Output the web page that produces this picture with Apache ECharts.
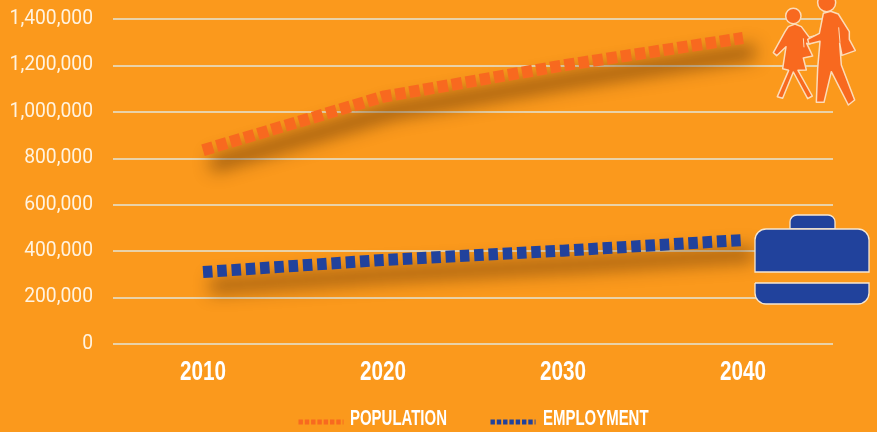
<!DOCTYPE html>
<html>
<head>
<meta charset="utf-8">
<style>
html,body{margin:0;padding:0;background:#fb991c}
#chart{width:877px;height:432px}
</style>
<script src="https://cdn.jsdelivr.net/npm/echarts@6/dist/echarts.min.js"></script>
</head>
<body>
<div id="chart"></div>
<script>
// Projected regional totals by decade
const years = ['2010', '2020', '2030', '2040'];
const population = [835000, 1065000, 1200000, 1318000];
const employment = [310000, 362000, 402000, 448000];
const seriesNames = ['POPULATION', 'EMPLOYMENT'];
const axisTicks = { min: 0, max: 1400000, step: 200000 };

const ORANGE = '#f8691f';
const BLUE = '#21429c';
const OUTLINE = '#fcdcb8';
const HEADING_FONT = '"Liberation Sans"';
const ICON_Z = 20;

function dottedLine(name, values, color, dash) {
  return {
    name, type: 'line', data: values, symbol: 'none', smooth: false, z: 5,
    lineStyle: {
      color, width: 12, type: dash, cap: 'butt',
      shadowColor: 'rgba(70,35,5,0.9)', shadowBlur: 18, shadowOffsetX: 10, shadowOffsetY: 14
    },
    itemStyle: { color }
  };
}

// Condensed captions: regular bold type squeezed horizontally
function condensedText(text, x, y, size, scaleX, align) {
  return {
    type: 'text', x, y, scaleX, scaleY: 1, z: ICON_Z,
    style: {
      text, fill: '#fff', font: 'bold ' + size + 'px ' + HEADING_FONT,
      textAlign: align, textVerticalAlign: 'middle'
    }
  };
}

const personStyle = { fill: ORANGE, stroke: OUTLINE, lineWidth: 4.5, lineJoin: 'round' };
const slitStyle = { stroke: OUTLINE, lineWidth: 3 };
const caseStyle = { fill: BLUE, stroke: '#f6e6cf', lineWidth: 1.3 };

const chart = echarts.init(document.getElementById('chart'), null, { renderer: 'canvas' });
chart.setOption({
  animation: false,
  backgroundColor: '#fb991c',
  grid: { left: 113, right: 44, top: 19, bottom: 88 },
  xAxis: {
    type: 'category', data: years, boundaryGap: true,
    axisLine: { show: false }, axisTick: { show: false },
    axisLabel: { show: false }
  },
  yAxis: {
    type: 'value', min: axisTicks.min, max: axisTicks.max, interval: axisTicks.step,
    axisLine: { show: false }, axisTick: { show: false },
    axisLabel: {
      color: '#fff3e0', fontFamily: 'Roboto', fontSize: 19.3, margin: 20, padding: [5, 0, 0, 0],
      formatter: v => v.toLocaleString('en-US')
    },
    splitLine: { lineStyle: { color: '#e9d2a8', width: 2 } }
  },
  legend: {
    left: 296, top: 418, padding: 0, itemWidth: 45, itemHeight: 8, itemGap: 142,
    formatter: () => '',
    itemStyle: { opacity: 0 },
    lineStyle: { width: 5, type: [4.4, 1.9], shadowBlur: 0, shadowOffsetX: 0, shadowOffsetY: 0, shadowColor: 'transparent' },
    data: seriesNames
  },
  series: [
    dottedLine(seriesNames[0], population, ORANGE, [10.5, 3.8]),
    dottedLine(seriesNames[1], employment, BLUE, [9.5, 4.8])
  ],
  graphic: [
    condensedText(seriesNames[0], 350, 419, 22, 0.68, 'left'),
    condensedText(seriesNames[1], 543, 419, 22, 0.68, 'left'),
    {
      // Two pedestrians beside the population line
      type: 'group', x: 740, y: 0, scaleX: 1 / 3, scaleY: 1 / 3,
      children: [
        { type: 'circle', z: ICON_Z, shape: { cx: 160, cy: 48, r: 23 }, style: personStyle },
        { type: 'polygon', z: ICON_Z, shape: { points: [[145,80],[165,72],[184,80],[208,112],[245,102],[249,116],[207,132],[200,130],[218,168],[190,174],[199,210],[174,211],[217,288],[203,296],[160,216],[128,295],[112,290],[146,211],[128,206],[138,140],[110,167],[100,158],[135,95]] }, style: personStyle },
        { type: 'line', z: ICON_Z, shape: { x1: 190, y1: 115, x2: 192, y2: 142 }, style: slitStyle },
        { type: 'circle', z: ICON_Z, shape: { cx: 260, cy: 8, r: 27 }, style: personStyle },
        { type: 'polygon', z: ICON_Z, shape: { points: [[250,40],[272,34],[295,42],[328,95],[328,118],[346,152],[306,166],[299,130],[304,195],[344,300],[325,315],[274,215],[252,307],[229,307],[233,205],[240,124],[207,132],[203,118],[238,100]] }, style: personStyle },
        { type: 'line', z: ICON_Z, shape: { x1: 296, y1: 82, x2: 300, y2: 128 }, style: slitStyle }
      ]
    },
    {
      // Briefcase beside the employment line
      type: 'group', x: 0, y: 0,
      children: [
        { type: 'rect', z: ICON_Z, shape: { x: 790, y: 215, width: 45, height: 14, r: [7, 7, 0, 0] }, style: caseStyle },
        { type: 'rect', z: ICON_Z, shape: { x: 755, y: 229, width: 114, height: 43, r: [11, 11, 0, 0] }, style: caseStyle },
        { type: 'rect', z: ICON_Z, shape: { x: 755, y: 283, width: 114, height: 21, r: [0, 0, 11, 11] }, style: caseStyle }
      ]
    }
  ]
});

// Year captions sit under their category positions on the x axis
chart.setOption({
  graphic: years.map((year, i) => ({
    id: 'year-' + i,
    ...condensedText(year, chart.convertToPixel({ xAxisIndex: 0 }, year), 372, 28, 0.74, 'center')
  }))
});
</script>
</body>
</html>
